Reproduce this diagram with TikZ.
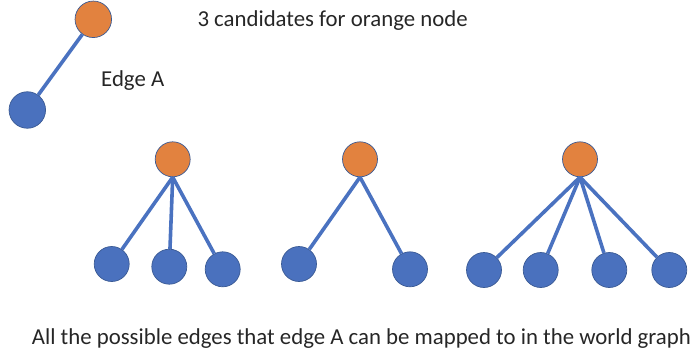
\documentclass[tikz,border=0pt]{standalone}
\usepackage{fontspec}
\setmainfont{Carlito}
\begin{document}
\begin{tikzpicture}[x=1pt,y=-1pt,
  vtx/.style={circle,minimum size=#1,inner sep=0pt,draw=edgeline,line width=0.7pt},
  vtx/.default=35pt,
  orangevtx/.style={vtx=#1,fill=nodeorange},
  orangevtx/.default=35pt,
  bluevtx/.style={vtx=#1,fill=nodeblue},
  bluevtx/.default=35pt,
  link/.style={draw=linkblue,line width=3.6pt},
  caption/.style={anchor=base west,inner sep=0pt,font=\fontsize{22.8}{26}\selectfont,text=black!85}]
\definecolor{nodeorange}{HTML}{E2823F}
\definecolor{nodeblue}{HTML}{4A71BE}
\definecolor{edgeline}{HTML}{3A5A94}
\definecolor{linkblue}{HTML}{4A72C0}
\useasboundingbox (0,0) rectangle (700,356);

% query edge
\node[orangevtx=36.5pt] (qo) at (93.3,19.3) {};
\node[bluevtx=36.5pt] (qb) at (27.3,110) {};
\draw[link] (qo) -- (qb);
\node[caption] (ea) at (101,86.7) {Edge A};

\node[caption] (title) at (197.3,26.7) {3 candidates for orange node};

% candidate 1
\node[orangevtx] (o1) at (172.7,159.3) {};
\node[bluevtx] (a1) at (111.7,264) {};
\node[bluevtx] (a2) at (169.3,266.7) {};
\node[bluevtx] (a3) at (222.7,269.3) {};
\foreach \b in {a1,a2,a3} \draw[link] (o1.south) -- (\b);

% candidate 2
\node[orangevtx] (o2) at (360,159.3) {};
\node[bluevtx] (b1) at (299,264) {};
\node[bluevtx] (b2) at (410,269.3) {};
\foreach \b in {b1,b2} \draw[link] (o2.south) -- (\b);

% candidate 3
\node[orangevtx] (o3) at (580,159.3) {};
\node[bluevtx] (c1) at (484,270) {};
\node[bluevtx] (c2) at (540.7,270) {};
\node[bluevtx] (c3) at (609.3,270) {};
\node[bluevtx] (c4) at (669.3,270) {};
\foreach \b in {c1,c2,c3,c4} \draw[link] (o3.south) -- (\b);

\node[caption] (note) at (31.7,344) {All the possible edges that edge A can be mapped to in the world graph};
\end{tikzpicture}
\end{document}
